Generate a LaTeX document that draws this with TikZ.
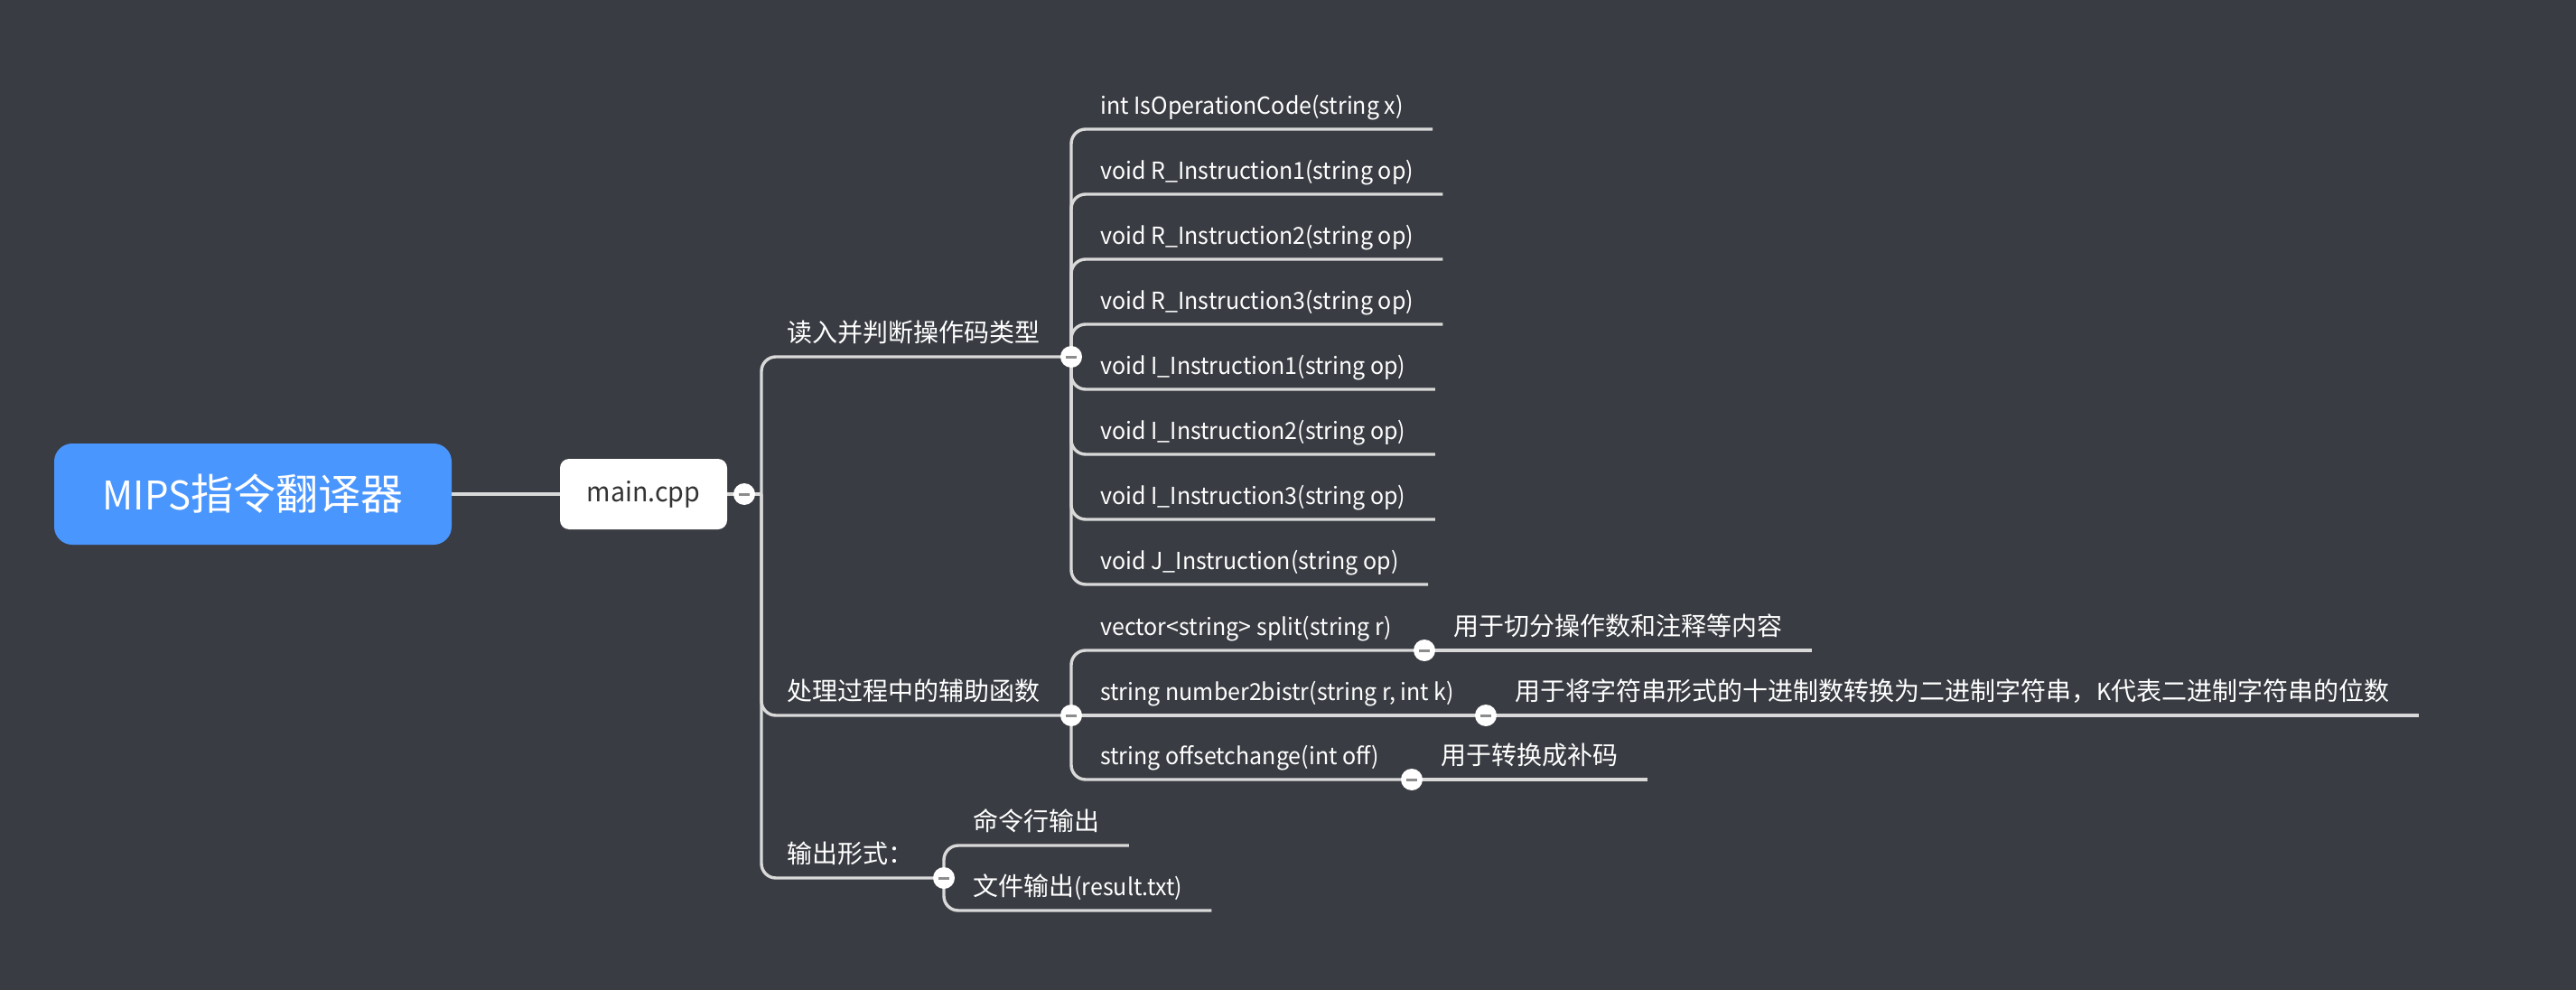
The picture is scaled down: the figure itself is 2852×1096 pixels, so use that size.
\documentclass[tikz,border=0pt]{standalone}
\usepackage{fontspec}
\setmainfont{Noto Sans CJK SC}
\newfontfamily\latfont[Scale=0.93,FakeStretch=0.96]{Noto Sans CJK SC}
\newcommand\lat[1]{{\latfont #1}}
\definecolor{bg}{RGB}{57,60,66}
\definecolor{ln}{RGB}{217,217,217}
\definecolor{rootblue}{RGB}{74,150,255}
\definecolor{minusgray}{RGB}{140,140,140}
\definecolor{darktext}{RGB}{51,51,51}
\newcommand\foldmark{\textcolor{minusgray}{\rule{6pt}{1.5pt}}}
\pgfdeclarelayer{back}
\pgfsetlayers{back,main}
\begin{document}
\begin{tikzpicture}[x=0.5pt,y=-0.5pt,
  conn/.style={draw=ln, line width=1.7pt, rounded corners=8pt},
  topic/.style={anchor=south west, inner xsep=16pt, inner ysep=0pt, text depth=8pt,
    text=white, font=\fontsize{14pt}{16pt}\selectfont},
  ftopic/.style={topic, font=\fontsize{14pt}{16pt}\latfont},
  maintopic/.style={topic, inner xsep=14pt},
  fold/.style={circle, fill=white, inner sep=0pt, minimum size=12pt},
  rootbox/.style={rectangle, rounded corners=10pt, fill=rootblue, text=white,
    minimum width=220pt, minimum height=56pt, inner sep=0pt,
    font=\fontsize{23.5pt}{26pt}\selectfont},
  mainbox/.style={rectangle, rounded corners=5pt, fill=white, text=darktext,
    minimum width=92.5pt, minimum height=39pt, inner sep=0pt,
    font=\fontsize{16pt}{18pt}\latfont}
]
\useasboundingbox (0,0) rectangle (2852,1096);

% root and main
\node[rootbox] (root) at (280,547) {\lat{MIPS}指令翻译器};
\node[mainbox] (main) at (712.5,547) {main.cpp};
\node[fold] (mc) at (824,547) {\foldmark};
\coordinate (t) at (843,547);

% level 1
\node[maintopic] (b1) at (843,395) {读入并判断操作码类型};
\node[fold] (c1) at (1186,395) {\foldmark};
\node[maintopic] (b2) at (843,792) {处理过程中的辅助函数};
\node[fold] (c2) at (1186,792) {\foldmark};
\node[maintopic] (b3) at (843,972) {输出形式：};
\node[fold] (c3) at (1045,972) {\foldmark};

% children of b1
\node[ftopic] (f1) at (1186,143) {int IsOperationCode(string x)};
\node[ftopic] (f2) at (1186,215) {void R\_Instruction1(string op)};
\node[ftopic] (f3) at (1186,287) {void R\_Instruction2(string op)};
\node[ftopic] (f4) at (1186,359) {void R\_Instruction3(string op)};
\node[ftopic] (f5) at (1186,431) {void I\_Instruction1(string op)};
\node[ftopic] (f6) at (1186,503) {void I\_Instruction2(string op)};
\node[ftopic] (f7) at (1186,575) {void I\_Instruction3(string op)};
\node[ftopic] (f8) at (1186,647) {void J\_Instruction(string op)};

% children of b2
\node[ftopic] (g1) at (1186,720) {vector<string> split(string r)};
\node[ftopic] (g2) at (1186,792) {string number2bistr(string r, int k)};
\node[ftopic] (g3) at (1186,863) {string offsetchange(int off)};
\node[fold] (cg1) at (1577,720) {\foldmark};
\node[fold] (cg2) at (1645,792) {\foldmark};
\node[fold] (cg3) at (1563,863) {\foldmark};
\node[topic] (a1) at (1577,720) {用于切分操作数和注释等内容};
\node[topic] (a2) at (1645,792) {用于将字符串形式的十进制数转换为二进制字符串，\lat{K}代表二进制字符串的位数};
\node[topic] (a3) at (1563,863) {用于转换成补码};

% children of b3
\node[topic] (h1) at (1045,936) {命令行输出};
\node[topic] (h2) at (1045,1008) {文件输出\lat{(result.txt)}};

\begin{pgfonlayer}{back}
  \fill[bg] (0,0) rectangle (2852,1096);
  \draw[conn] (root) -- (main);
  \draw[conn] (main) -- (mc.center);
  \draw[conn] (mc.center) -- (t);
  \draw[conn] (t) |- (c1.center);
  \draw[conn] (t) |- (c2.center);
  \draw[conn] (t) |- (c3.center);
  \foreach \n in {f1,f2,f3,f4,f5,f6,f7,f8}
    \draw[conn] (c1.center) |- (\n.south east);
  \draw[conn] (c2.center) |- (cg1.center);
  \draw[conn] (c2.center) -- (cg2.center);
  \draw[conn] (c2.center) |- (cg3.center);
  \draw[conn] (cg1.center) -- (a1.south east);
  \draw[conn] (cg2.center) -- (a2.south east);
  \draw[conn] (cg3.center) -- (a3.south east);
  \draw[conn] (c3.center) |- (h1.south east);
  \draw[conn] (c3.center) |- (h2.south east);
\end{pgfonlayer}
\end{tikzpicture}
\end{document}
